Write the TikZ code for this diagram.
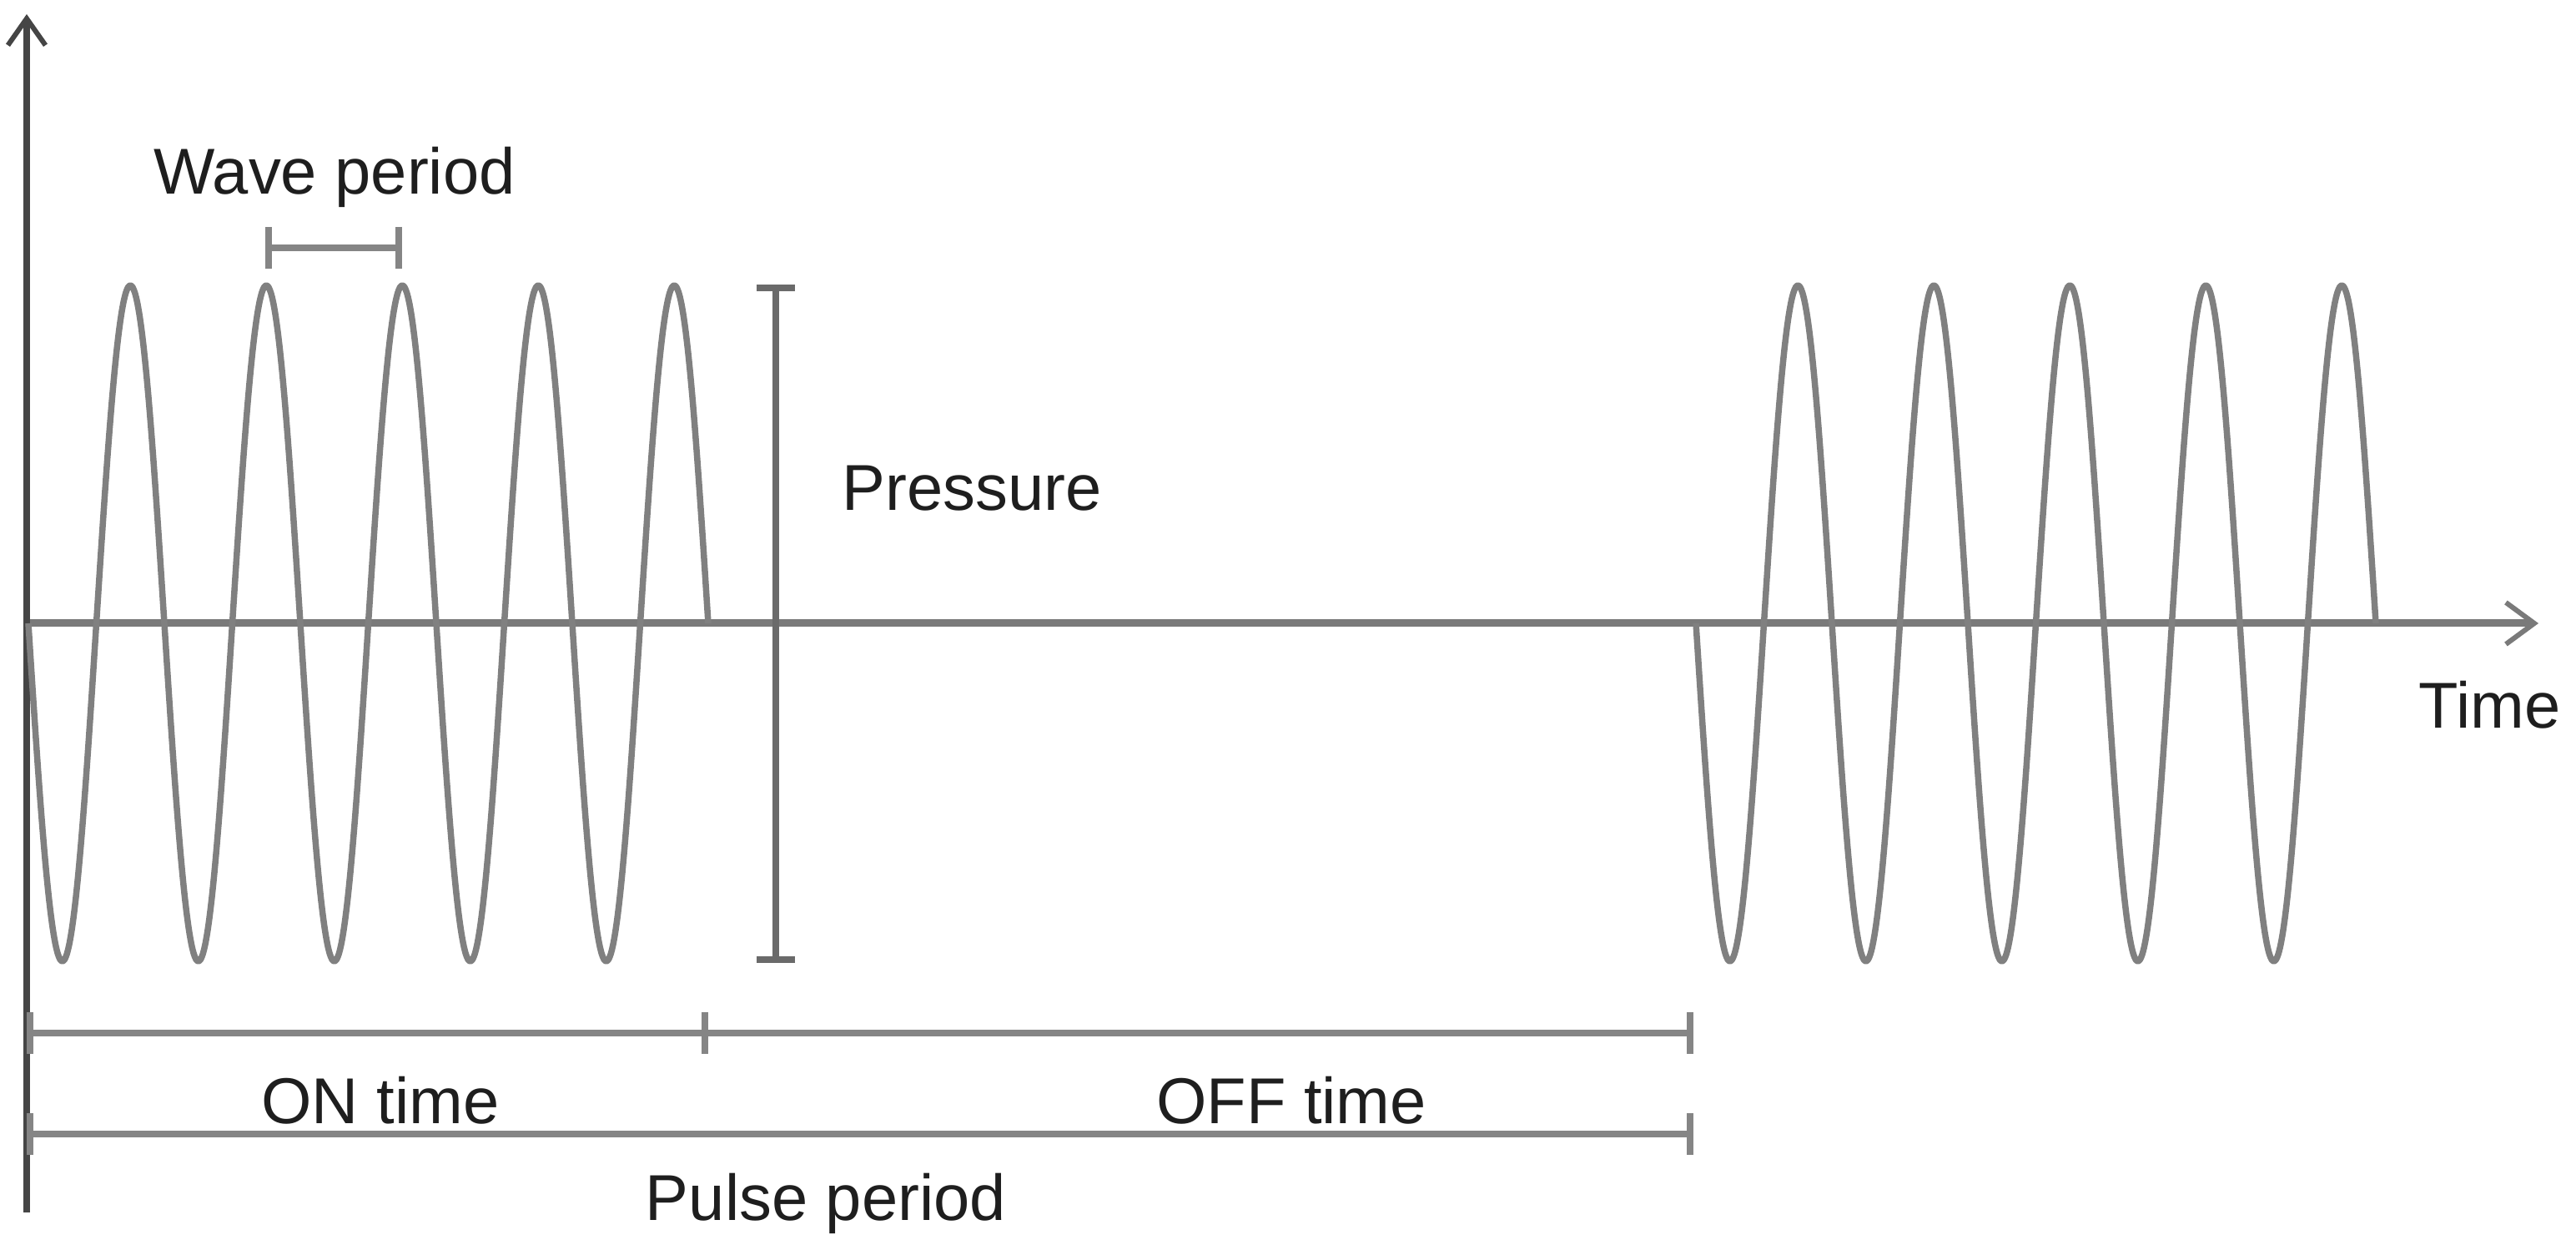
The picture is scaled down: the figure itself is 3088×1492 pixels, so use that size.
\documentclass[tikz,border=0pt]{standalone}
\usepackage{fontspec}
\setmainfont{Liberation Sans}
\usetikzlibrary{arrows.meta}
\definecolor{wavegray}{HTML}{808080}
\definecolor{axisgray}{HTML}{7A7A7A}
\definecolor{yaxisgray}{HTML}{454545}
\definecolor{bargray}{HTML}{858585}
\definecolor{txt}{HTML}{1E1E1E}
\begin{document}
\begin{tikzpicture}[x=0.01cm,y=-0.01cm,
  wave/.style={draw=wavegray,line width=0.075cm,line join=round},
  axisline/.style={draw=axisgray,line width=0.09cm},
  yaxisline/.style={draw=yaxisgray,line width=0.075cm},
  dimbar/.style={draw=bargray,line width=0.08cm,{Bar[width=0.5cm]}-{Bar[width=0.5cm]}},
  lbl/.style={text=txt,font=\fontsize{22.1}{26}\selectfont,inner sep=0pt,anchor=base}]
\useasboundingbox (0,0) rectangle (3088,1492);
% axes
\coordinate (yb) at (32,1453);
\coordinate (yt) at (32,17);
\coordinate (xo) at (32,747);
\coordinate (xt) at (3043,747);
\draw[axisline,-{Straight Barb[length=0.34cm,width=0.5cm,line width=0.06cm]}] (xo) -- (xt);
\draw[yaxisline,-{Straight Barb[length=0.32cm,width=0.45cm,line width=0.06cm]}] (yb) -- (yt);
% wave bursts
\draw[wave] plot[domain=34:849,samples=301,smooth] (\x,{747+405*sin((\x-34)/163*360)});
\draw[wave] plot[domain=2033:2848,samples=301,smooth] (\x,{747+405*sin((\x-2033)/163*360)});
% wave period
\coordinate (wp1) at (318,297);
\coordinate (wp2) at (482,297);
\draw[dimbar] (wp1) -- (wp2);
\node[lbl] (wavep) at (401,233) {Wave period};
% pressure
\coordinate (pt) at (930,341);
\coordinate (pb) at (930,1154);
\draw[dimbar,draw=yaxisgray!80,{Bar[width=0.46cm]}-{Bar[width=0.46cm]}] (pt) -- (pb);
\node[lbl,anchor=base west] (press) at (1009,612) {Pressure};
% time label
\node[lbl,anchor=base west] (timel) at (2899,873) {Time};
% on / off
\coordinate (on0) at (32,1238);
\coordinate (on1) at (849,1238);
\coordinate (off1) at (2030,1238);
\draw[dimbar] (on0) -- (on1);
\draw[dimbar,-{Bar[width=0.5cm]}] (on1) -- (off1);
\node[lbl] (ont) at (456,1346) {ON time};
\node[lbl] (offt) at (1548,1346) {OFF time};
% pulse period
\coordinate (pp0) at (32,1359);
\coordinate (pp1) at (2030,1359);
\draw[dimbar] (pp0) -- (pp1);
\node[lbl] (pulse) at (990,1462) {Pulse period};
\end{tikzpicture}
\end{document}
